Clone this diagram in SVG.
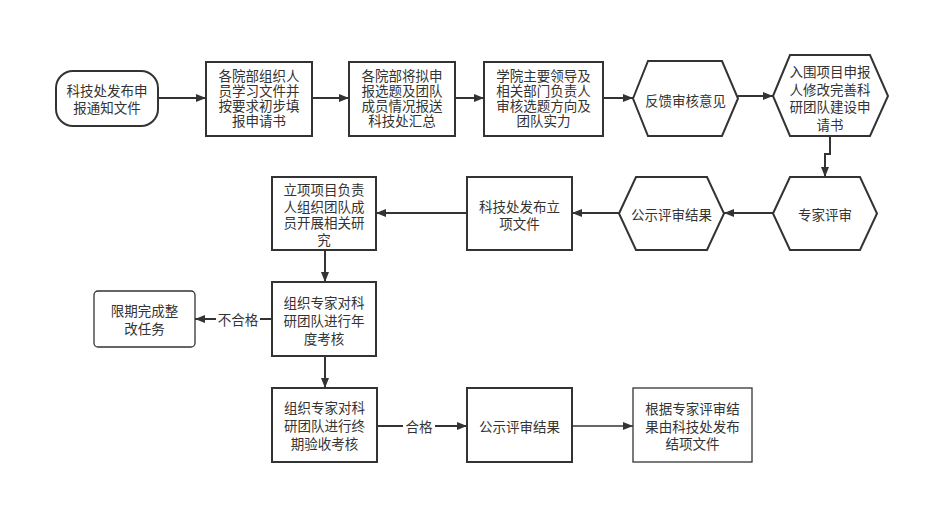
<svg xmlns="http://www.w3.org/2000/svg" width="942" height="516" viewBox="0 0 942 516">
<defs>
<marker id="ah" viewBox="0 0 10 8" refX="10" refY="4" markerWidth="10" markerHeight="8" markerUnits="userSpaceOnUse" orient="auto">
<path d="M0,0 L10,4 L0,8 Z" fill="#333"/>
</marker>
</defs>
<style>
.n{fill:#fff;stroke:#333;stroke-width:2}
.thin{fill:#fff;stroke:#333;stroke-width:1.3}
.t{font-family:"Noto Sans CJK SC","Noto Sans",sans-serif;font-size:13.5px;fill:#333;text-anchor:middle;dominant-baseline:central}
.e{fill:none;stroke:#333;stroke-width:2;marker-end:url(#ah)}
.et{fill:none;stroke:#333;stroke-width:1.3;marker-end:url(#ah)}
.lb{fill:#fff;stroke:none}
</style>
<rect width="942" height="516" fill="#fff"/>
<g id="connectors">
<path class="e" d="M158,98 L206,98"/>
<path class="e" d="M312,98 L349,98"/>
<path class="e" d="M455,98 L484,98"/>
<path class="e" d="M603,98 L633,98"/>
<path class="e" d="M738,96 L773,96"/>
<path class="e" d="M830,136 L830,154 L825,154 L825,177"/>
<path class="e" d="M773,213 L724,213"/>
<path class="e" d="M619,213 L572,213"/>
<path class="e" d="M467,213 L376,213"/>
<path class="e" d="M325,250 L325,282"/>
<path class="e" d="M272,319 L195,319"/>
<rect class="lb" x="216" y="310" width="44" height="18"/>
<text class="t" x="238" y="319">不合格</text>
<path class="e" d="M325,356 L325,388"/>
<path class="e" d="M377,426 L467,426"/>
<rect class="lb" x="403" y="417" width="32" height="18"/>
<text class="t" x="419" y="426">合格</text>
<path class="et" d="M572,426 L633,426"/>
</g>
<g id="n1">
<rect class="n" x="56" y="71" width="102" height="55" rx="17" ry="17"/>
<text class="t" x="107" y="90">科技处发布申</text>
<text class="t" x="107" y="107">报通知文件</text>
</g>
<g id="n2">
<rect class="n" x="206" y="62" width="106" height="74"/>
<text class="t" x="259" y="75">各院部组织人</text>
<text class="t" x="259" y="90">员学习文件并</text>
<text class="t" x="259" y="105">按要求初步填</text>
<text class="t" x="259" y="120">报申请书</text>
</g>
<g id="n3">
<rect class="n" x="349" y="62" width="106" height="74"/>
<text class="t" x="402" y="75">各院部将拟申</text>
<text class="t" x="402" y="90">报选题及团队</text>
<text class="t" x="402" y="105">成员情况报送</text>
<text class="t" x="402" y="120">科技处汇总</text>
</g>
<g id="n4">
<rect class="n" x="484" y="62" width="119" height="74"/>
<text class="t" x="543.5" y="75">学院主要领导及</text>
<text class="t" x="543.5" y="90">相关部门负责人</text>
<text class="t" x="543.5" y="105">审核选题方向及</text>
<text class="t" x="543.5" y="120">团队实力</text>
</g>
<g id="n5">
<polygon class="n" points="633,98.5 648,61 722,61 738,98.5 722,136 648,136"/>
<text class="t" x="685.5" y="100">反馈审核意见</text>
</g>
<g id="n6">
<polygon class="n" points="773,96 790,55 870,55 888,96 870,136 790,136"/>
<text class="t" x="830" y="71">入围项目申报</text>
<text class="t" x="830" y="88.5">人修改完善科</text>
<text class="t" x="830" y="106">研团队建设申</text>
<text class="t" x="830" y="123.5">请书</text>
</g>
<g id="n7">
<polygon class="n" points="773,213.5 790,177 860,177 877,213.5 860,250 790,250"/>
<text class="t" x="825" y="214">专家评审</text>
</g>
<g id="n8">
<polygon class="n" points="619,213.5 636,177 707,177 724,213.5 707,250 636,250"/>
<text class="t" x="671.5" y="214">公示评审结果</text>
</g>
<g id="n9">
<rect class="n" x="467" y="177" width="105" height="73"/>
<text class="t" x="519.5" y="206">科技处发布立</text>
<text class="t" x="519.5" y="223">项文件</text>
</g>
<g id="n10">
<rect class="n" x="272" y="177" width="104" height="73"/>
<text class="t" x="324" y="189">立项项目负责</text>
<text class="t" x="324" y="205.5">人组织团队成</text>
<text class="t" x="324" y="222">员开展相关研</text>
<text class="t" x="324" y="238.5">究</text>
</g>
<g id="n11">
<rect class="n" x="272" y="282" width="104" height="74"/>
<text class="t" x="324" y="302">组织专家对科</text>
<text class="t" x="324" y="320">研团队进行年</text>
<text class="t" x="324" y="338">度考核</text>
</g>
<g id="n12">
<rect class="thin" x="94" y="291" width="101" height="56" rx="4" ry="4"/>
<text class="t" x="144.5" y="310">限期完成整</text>
<text class="t" x="144.5" y="328">改任务</text>
</g>
<g id="n13">
<rect class="n" x="272" y="388" width="105" height="74"/>
<text class="t" x="324.5" y="407">组织专家对科</text>
<text class="t" x="324.5" y="425">研团队进行终</text>
<text class="t" x="324.5" y="443">期验收考核</text>
</g>
<g id="n14">
<rect class="n" x="467" y="388" width="105" height="74"/>
<text class="t" x="519.5" y="426">公示评审结果</text>
</g>
<g id="n15">
<rect class="thin" x="633" y="388" width="119" height="74"/>
<text class="t" x="692.5" y="408">根据专家评审结</text>
<text class="t" x="692.5" y="425.5">果由科技处发布</text>
<text class="t" x="692.5" y="443">结项文件</text>
</g>
</svg>
